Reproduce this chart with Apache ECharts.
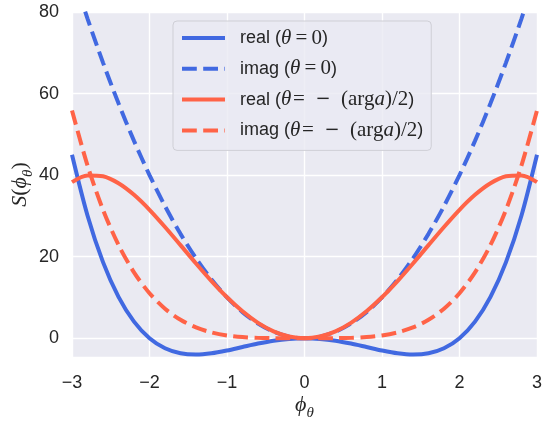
<!DOCTYPE html>
<html>
<head>
<meta charset="utf-8">
<script src="https://cdn.jsdelivr.net/npm/echarts@6/dist/echarts.min.js"></script>
<style>
  html, body { margin: 0; padding: 0; background: #ffffff; }
  #chart { width: 544px; height: 423px; }
</style>
</head>
<body>
<div id="chart"></div>
<script>
// Field values phi sampled from -3 to 3
const phi = [-3.0, -2.8, -2.6, -2.4, -2.2, -2.0, -1.8, -1.6, -1.4, -1.2, -1.0, -0.8, -0.6, -0.4, -0.2, 0.0,
             0.2, 0.4, 0.6, 0.8, 1.0, 1.2, 1.4, 1.6, 1.8, 2.0, 2.2, 2.4, 2.6, 2.8, 3.0];

// S(phi) at theta = 0
const realTheta0 = [45.00, 30.11, 18.66, 10.14, 4.07, 0.00, -2.46, -3.69, -4.00, -3.69, -3.00, -2.15, -1.31, -0.61, -0.16, 0.00,
                    -0.16, -0.61, -1.31, -2.15, -3.00, -3.69, -4.00, -3.69, -2.46, 0.00, 4.07, 10.14, 18.66, 30.11, 45.00];
const imagTheta0 = [90.0, 78.4, 67.6, 57.6, 48.4, 40.0, 32.4, 25.6, 19.6, 14.4, 10.0, 6.4, 3.6, 1.6, 0.4, 0.0,
                    0.4, 1.6, 3.6, 6.4, 10.0, 14.4, 19.6, 25.6, 32.4, 40.0, 48.4, 57.6, 67.6, 78.4, 90.0];

// S(phi) at theta = -(arg a)/2
const realRot = [38.28, 39.93, 39.72, 38.01, 35.17, 31.50, 27.29, 22.83, 18.33, 14.01, 10.05, 6.60, 3.78, 1.70, 0.43, 0.00,
                 0.43, 1.70, 3.78, 6.60, 10.05, 14.01, 18.33, 22.83, 27.29, 31.50, 35.17, 38.01, 39.72, 39.93, 38.28];
const imagRot = [55.87, 42.39, 31.52, 22.88, 16.16, 11.04, 7.24, 4.52, 2.65, 1.43, 0.69, 0.28, 0.09, 0.02, 0.00, 0.00,
                 0.00, 0.02, 0.09, 0.28, 0.69, 1.43, 2.65, 4.52, 7.24, 11.04, 16.16, 22.88, 31.52, 42.39, 55.87];

const xTicks = [-3, -2, -1, 0, 1, 2, 3];
const yTicks = [0, 20, 40, 60, 80];

const seriesNames = ['real0', 'imag0', 'realRot', 'imagRot'];
const seriesLegend = {
  real0: 'real ({i|θ}{m|\u2009=\u20090})',
  imag0: 'imag ({i|θ}{m|\u2009=\u20090})',
  realRot: 'real ({i|θ}{m|\u200a=\u2002}{o|−}{m|\u2002(arg}{i|a}{m|)/2})',
  imagRot: 'imag ({i|θ}{m|\u200a=\u2002}{o|−}{m|\u2002(arg}{i|a}{m|)/2})'
};

const BLUE = '#4169E1';
const RED = '#FF6347';
const INK = '#262626';
const SANS = '"Liberation Sans", Arial, sans-serif';
const SERIF = '"Liberation Serif", "DejaVu Serif", serif';
const DASH = [14.8, 6.4];

function pairs(ys) {
  return phi.map((x, i) => [x, ys[i]]);
}

function lineSeries(name, ys, color, dashed) {
  return {
    name: name,
    type: 'line',
    data: pairs(ys),
    smooth: 0.3,
    symbol: 'none',
    clip: true,
    lineStyle: { color: color, width: 4, type: dashed ? DASH : 'solid', cap: 'butt' },
    itemStyle: { color: color }
  };
}

const minus = v => (v < 0 ? '\u2212' + Math.abs(v) : String(v));

const chart = echarts.init(document.getElementById('chart'), null, { renderer: 'canvas' });
chart.setOption({
  animation: false,
  backgroundColor: '#ffffff',
  grid: {
    left: 72, right: 7, top: 12, bottom: 66,
    outerBoundsMode: 'none',
    show: true, backgroundColor: '#EAEAF2', borderWidth: 0
  },
  xAxis: {
    type: 'value', min: xTicks[0], max: xTicks[xTicks.length - 1], interval: 1,
    axisLine: { show: false }, axisTick: { show: false },
    splitLine: { show: true, lineStyle: { color: '#ffffff', width: 1.4 } },
    axisLabel: { color: INK, fontFamily: SANS, fontSize: 18, margin: 17, formatter: minus },
    name: '{i|ϕ}{s|θ}', nameLocation: 'middle', nameGap: 35, nameMoveOverlap: false,
    nameTextStyle: {
      rich: {
        i: { fontFamily: SERIF, fontStyle: 'italic', fontSize: 22, color: INK, lineHeight: 26, verticalAlign: 'middle' },
        s: { fontFamily: SERIF, fontStyle: 'italic', fontSize: 15, color: INK, lineHeight: 26, verticalAlign: 'bottom', padding: [0, 0, -3, 0] }
      }
    }
  },
  yAxis: {
    type: 'value', min: -4.6, max: yTicks[yTicks.length - 1], splitNumber: 5,
    axisLine: { show: false }, axisTick: { show: false },
    splitLine: { show: true, lineStyle: { color: '#ffffff', width: 1.4 } },
    axisLabel: {
      color: INK, fontFamily: SANS, fontSize: 18, margin: 13, showMinLabel: false,
      formatter: v => (yTicks.indexOf(v) >= 0 ? minus(v) : '')
    },
    name: '{i|S}{r|(}{i|ϕ}{s|θ}{r|)}', nameLocation: 'middle', nameGap: 39, nameRotate: 90, nameMoveOverlap: false,
    nameTextStyle: {
      rich: {
        i: { fontFamily: SERIF, fontStyle: 'italic', fontSize: 22, color: INK, lineHeight: 26 },
        r: { fontFamily: SERIF, fontSize: 22, color: INK, lineHeight: 26 },
        s: { fontFamily: SERIF, fontStyle: 'italic', fontSize: 15, color: INK, lineHeight: 26, verticalAlign: 'bottom', padding: [0, 0, -3, 0] }
      }
    }
  },
  legend: {
    orient: 'vertical', left: 173, top: 21,
    padding: [6, 8, 9, 7],
    itemWidth: 43, itemHeight: 14, itemGap: 8.8,
    backgroundColor: 'rgba(234,234,242,0.8)',
    borderColor: '#cfcfd6', borderWidth: 1, borderRadius: 4,
    itemStyle: { opacity: 0 },
    lineStyle: { width: 4 },
    data: seriesNames,
    formatter: n => seriesLegend[n],
    textStyle: {
      color: INK, fontFamily: SANS, fontSize: 18, lineHeight: 22, padding: [0, 0, 0, 10],
      rich: {
        i: { fontFamily: SERIF, fontStyle: 'italic', fontSize: 21, color: INK, lineHeight: 22 },
        m: { fontFamily: SERIF, fontSize: 21, color: INK, lineHeight: 22 },
        o: { fontFamily: '"DejaVu Serif", serif', fontSize: 18, color: INK, lineHeight: 22 }
      }
    }
  },
  series: [
    lineSeries(seriesNames[0], realTheta0, BLUE, false),
    lineSeries(seriesNames[1], imagTheta0, BLUE, true),
    lineSeries(seriesNames[2], realRot, RED, false),
    lineSeries(seriesNames[3], imagRot, RED, true)
  ]
});
</script>
</body>
</html>
